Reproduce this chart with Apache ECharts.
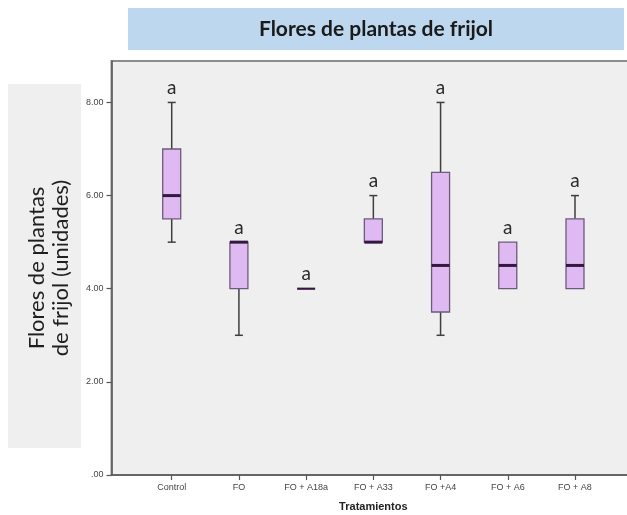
<!DOCTYPE html>
<html>
<head>
<meta charset="utf-8">
<script src="https://cdn.jsdelivr.net/npm/echarts@6/dist/echarts.min.js"></script>
<style>html,body{margin:0;padding:0;background:#fff}#c{width:627px;height:515px}</style>
</head>
<body>
<div id="c"></div>
<script>
const categories = ['Control', 'FO', 'FO + A18a', 'FO + A33', 'FO +A4', 'FO + A6', 'FO + A8'];
const minVals    = [5,   3, 4, 5,   3,   4,   4];
const q1Vals     = [5.5, 4, 4, 5,   3.5, 4,   4];
const medianVals = [6,   5, 4, 5,   4.5, 4.5, 4.5];
const q3Vals     = [7,   5, 4, 5.5, 6.5, 5,   5.5];
const maxVals    = [8,   5, 4, 6,   8,   5,   6];
const letters    = ['a', 'a', 'a', 'a', 'a', 'a', 'a'];
const yTicks     = [0, 2, 4, 6, 8];
const yMax = 8.89;

const boxData = categories.map((c, i) => [i, minVals[i], q1Vals[i], medianVals[i], q3Vals[i], maxVals[i], letters[i]]);

const chart = echarts.init(document.getElementById('c'), null, {renderer: 'canvas'});

function renderBox(params, api) {
  const i = api.value(0);
  const vMin = api.value(1), vQ1 = api.value(2), vMed = api.value(3), vQ3 = api.value(4), vMax = api.value(5);
  const pMin = api.coord([i, vMin]);
  const pQ1 = api.coord([i, vQ1]);
  const pMed = api.coord([i, vMed]);
  const pQ3 = api.coord([i, vQ3]);
  const pMax = api.coord([i, vMax]);
  const cx = pMed[0];
  const hw = 9, cap = 4;
  const wStyle = {stroke: '#3f3f3f', lineWidth: 1.5};
  const ch = [];
  if (vMax > vQ3) {
    ch.push({type: 'line', shape: {x1: cx, y1: pQ3[1], x2: cx, y2: pMax[1]}, style: wStyle});
    ch.push({type: 'line', shape: {x1: cx - cap, y1: pMax[1], x2: cx + cap, y2: pMax[1]}, style: wStyle});
  }
  if (vMin < vQ1) {
    ch.push({type: 'line', shape: {x1: cx, y1: pQ1[1], x2: cx, y2: pMin[1]}, style: wStyle});
    ch.push({type: 'line', shape: {x1: cx - cap, y1: pMin[1], x2: cx + cap, y2: pMin[1]}, style: wStyle});
  }
  if (vQ3 > vQ1) {
    ch.push({type: 'rect', shape: {x: cx - hw, y: pQ3[1], width: 2 * hw, height: pQ1[1] - pQ3[1]},
      style: {fill: '#dfb9f1', stroke: '#6e5a7a', lineWidth: 1.3}});
  }
  ch.push({type: 'line', shape: {x1: cx - hw, y1: pMed[1], x2: cx + hw, y2: pMed[1]},
    style: {stroke: '#35183f', lineWidth: vQ3 > vQ1 ? 3 : 2.2}});
  ch.push({type: 'text', x: cx, y: pMax[1] - 14.5,
    style: {text: api.value(6), fill: '#2a2a2a', font: '19px Lato, "Open Sans", sans-serif', align: 'center', verticalAlign: 'middle'}});
  return {type: 'group', children: ch};
}

const option = {
  backgroundColor: '#ffffff',
  animation: false,
  grid: [
    {left: 111.5, top: 61, width: 540, bottom: 40, show: true, backgroundColor: '#efefef', borderColor: '#8c8c8c', borderWidth: 2,
      outerBoundsMode: 'none', containLabel: false},
    {left: 138.1, top: 61, right: 18.4, bottom: 40, outerBoundsMode: 'none'}
  ],
  xAxis: [
    {gridIndex: 0, type: 'value', min: 0, max: 1, axisLabel: {show: false}, axisTick: {show: false}, splitLine: {show: false},
      axisLine: {show: true, lineStyle: {color: '#5a5a5a', width: 1.5}}},
    {gridIndex: 1, type: 'category', data: categories, boundaryGap: true,
      axisLine: {show: false},
      axisTick: {show: true, alignWithLabel: true, length: 5, lineStyle: {color: '#555', width: 1.2}},
      axisLabel: {color: '#444', fontSize: 9, fontFamily: '"Liberation Sans", Arial, sans-serif', margin: 8, interval: 0},
      name: 'Tratamientos', nameLocation: 'middle', nameGap: 26,
      nameTextStyle: {color: '#222', fontSize: 11, fontWeight: 'bold', fontFamily: '"Liberation Sans", Arial, sans-serif'}}
  ],
  yAxis: [
    {gridIndex: 0, type: 'value', min: 0, max: yMax, splitLine: {show: false},
      axisLine: {show: true, lineStyle: {color: '#5a5a5a', width: 1.5}},
      axisTick: {show: true, length: 5, customValues: yTicks, lineStyle: {color: '#555', width: 1.2}},
      axisLabel: {customValues: yTicks, color: '#444', fontSize: 9, margin: 8, fontFamily: '"Liberation Sans", Arial, sans-serif',
        formatter: v => v === 0 ? '.00' : v.toFixed(2)}},
    {gridIndex: 1, type: 'value', min: 0, max: yMax, show: false}
  ],
  graphic: [
    {type: 'rect', shape: {x: 128, y: 8, width: 496, height: 42}, style: {fill: '#bdd7ee'}},
    {type: 'text', x: 376, y: 29, style: {text: 'Flores de plantas de frijol', fill: '#1a1a1a',
      font: 'bold 21px Lato, "Open Sans", sans-serif', align: 'center', verticalAlign: 'middle'}},
    {type: 'rect', shape: {x: 8, y: 84, width: 73, height: 364}, style: {fill: '#efefef'}},
    {type: 'text', x: 37, y: 268, rotation: Math.PI / 2, style: {text: 'Flores de plantas', fill: '#1f1f1f',
      font: '22px Lato, "Open Sans", sans-serif', align: 'center', verticalAlign: 'middle'}},
    {type: 'text', x: 61, y: 268, rotation: Math.PI / 2, style: {text: 'de frijol (unidades)', fill: '#1f1f1f',
      font: '22px Lato, "Open Sans", sans-serif', align: 'center', verticalAlign: 'middle'}}
  ],
  series: [{
    type: 'custom', xAxisIndex: 1, yAxisIndex: 1, data: boxData,
    encode: {x: 0, y: [1, 2, 3, 4, 5]},
    renderItem: renderBox
  }]
};
chart.setOption(option);
</script>
</body>
</html>
